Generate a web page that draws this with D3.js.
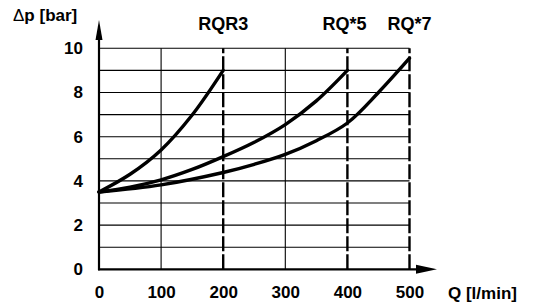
<!DOCTYPE html>
<html>
<head>
<meta charset="utf-8">
<script src="https://cdn.jsdelivr.net/npm/d3@7"></script>
<style>
  body { margin: 0; background: #fff; }
  svg text { font-family: "Liberation Sans", Arial, sans-serif; font-weight: bold; fill: #000; }
</style>
</head>
<body>
<div class="chart-container"></div>
<script>
// flow Q [l/min] and pressure drop dp [bar]
var rqr3Q = [0, 50, 100, 150, 200];
var rqr3Dp = [3.5, 4.3, 5.4, 6.98, 9.0];
var rq5Q = [0, 50, 100, 150, 200, 250, 300, 350, 400];
var rq5Dp = [3.5, 3.72, 4.05, 4.52, 5.1, 5.75, 6.55, 7.62, 9.0];
var rq7Q = [0, 100, 200, 250, 300, 350, 400, 450, 500];
var rq7Dp = [3.5, 3.82, 4.38, 4.75, 5.2, 5.82, 6.62, 8.0, 9.55];

var seriesNames = ["RQR3", "RQ*5", "RQ*7"];
var seriesEnds = [200, 400, 500];
var xTicks = [0, 100, 200, 300, 400, 500];
var yTicks = [0, 2, 4, 6, 8, 10];
var yGrid = [1, 2, 3, 4, 5, 6, 7, 8, 9, 10];

var width = 533, height = 304;
var x = d3.scaleLinear().domain([0, 500]).range([99, 409.5]);
var y = d3.scaleLinear().domain([0, 10]).range([269.3, 48.3]);

var svg = d3.select("div.chart-container")
  .append("svg")
  .attr("width", width)
  .attr("height", height);

// horizontal grid
svg.append("g").selectAll("line")
  .data(yGrid)
  .enter()
  .append("line")
  .attr("x1", x(0)).attr("x2", x(500))
  .attr("y1", function(d) { return y(d); })
  .attr("y2", function(d) { return y(d); })
  .attr("stroke", "#000")
  .attr("stroke-width", 1.1);

// vertical grid, the series end lines are heavier and dashed
svg.append("g").selectAll("line")
  .data(xTicks.slice(1))
  .enter()
  .append("line")
  .attr("x1", function(d) { return x(d); })
  .attr("x2", function(d) { return x(d); })
  .attr("y1", y(0)).attr("y2", y(10))
  .attr("stroke", "#000")
  .attr("stroke-width", function(d) { return seriesEnds.indexOf(d) >= 0 ? 2.4 : 1.1; })
  .attr("stroke-dasharray", function(d) { return seriesEnds.indexOf(d) >= 0 ? "15,3" : null; });

// axes with arrows
svg.append("line")
  .attr("x1", x(0)).attr("x2", x(0))
  .attr("y1", y(0) + 1).attr("y2", 38)
  .attr("stroke", "#000").attr("stroke-width", 2.2);
svg.append("path")
  .attr("d", "M" + (x(0) - 3.5) + ",40 L" + x(0) + ",20 L" + (x(0) + 3.5) + ",40 Z")
  .attr("fill", "#000");
svg.append("line")
  .attr("x1", x(0) - 1).attr("x2", 418)
  .attr("y1", y(0)).attr("y2", y(0))
  .attr("stroke", "#000").attr("stroke-width", 2.2);
svg.append("path")
  .attr("d", "M416," + (y(0) - 4.5) + " L437," + y(0) + " L416," + (y(0) + 4.5) + " Z")
  .attr("fill", "#000");

// tick labels
var xAxis = svg.append("g")
  .attr("transform", "translate(0," + y(0) + ")")
  .call(d3.axisBottom(x).tickValues(xTicks).tickSize(0).tickPadding(17));
var yAxis = svg.append("g")
  .attr("transform", "translate(" + x(0) + ",0)")
  .call(d3.axisLeft(y).tickValues(yTicks).tickSize(0).tickPadding(16));
[xAxis, yAxis].forEach(function(g) {
  g.select(".domain").remove();
  g.selectAll("text")
    .attr("fill", "#000")
    .style("font-size", "17px")
    .style("font-family", "'Liberation Sans', Arial, sans-serif")
    .style("font-weight", "bold");
});

// curves
var line = d3.line()
  .x(function(d) { return x(d[0]); })
  .y(function(d) { return y(d[1]); })
  .curve(d3.curveCatmullRom.alpha(0.5));
var curves = [d3.zip(rqr3Q, rqr3Dp), d3.zip(rq5Q, rq5Dp), d3.zip(rq7Q, rq7Dp)];
svg.append("g").selectAll("path")
  .data(curves)
  .enter()
  .append("path")
  .attr("d", line)
  .attr("fill", "none")
  .attr("stroke", "#000")
  .attr("stroke-width", 3.4)
  .attr("stroke-linecap", "round");

// series labels
svg.append("g").selectAll("text")
  .data(seriesNames)
  .enter()
  .append("text")
  .attr("x", function(d, i) { return x(seriesEnds[i]) - (i === 1 ? 3 : 0); })
  .attr("y", 30)
  .attr("text-anchor", "middle")
  .style("font-size", "18px")
  .text(function(d) { return d; });

// axis titles
var yTitle = svg.append("text").attr("x", 13).attr("y", 21).style("font-size", "17px");
yTitle.append("tspan").style("font-weight", "normal").text("Δ");
yTitle.append("tspan").text("p [bar]");
svg.append("text")
  .attr("x", 448).attr("y", 299)
  .style("font-size", "17px")
  .text("Q [l/min]");
</script>
</body>
</html>
